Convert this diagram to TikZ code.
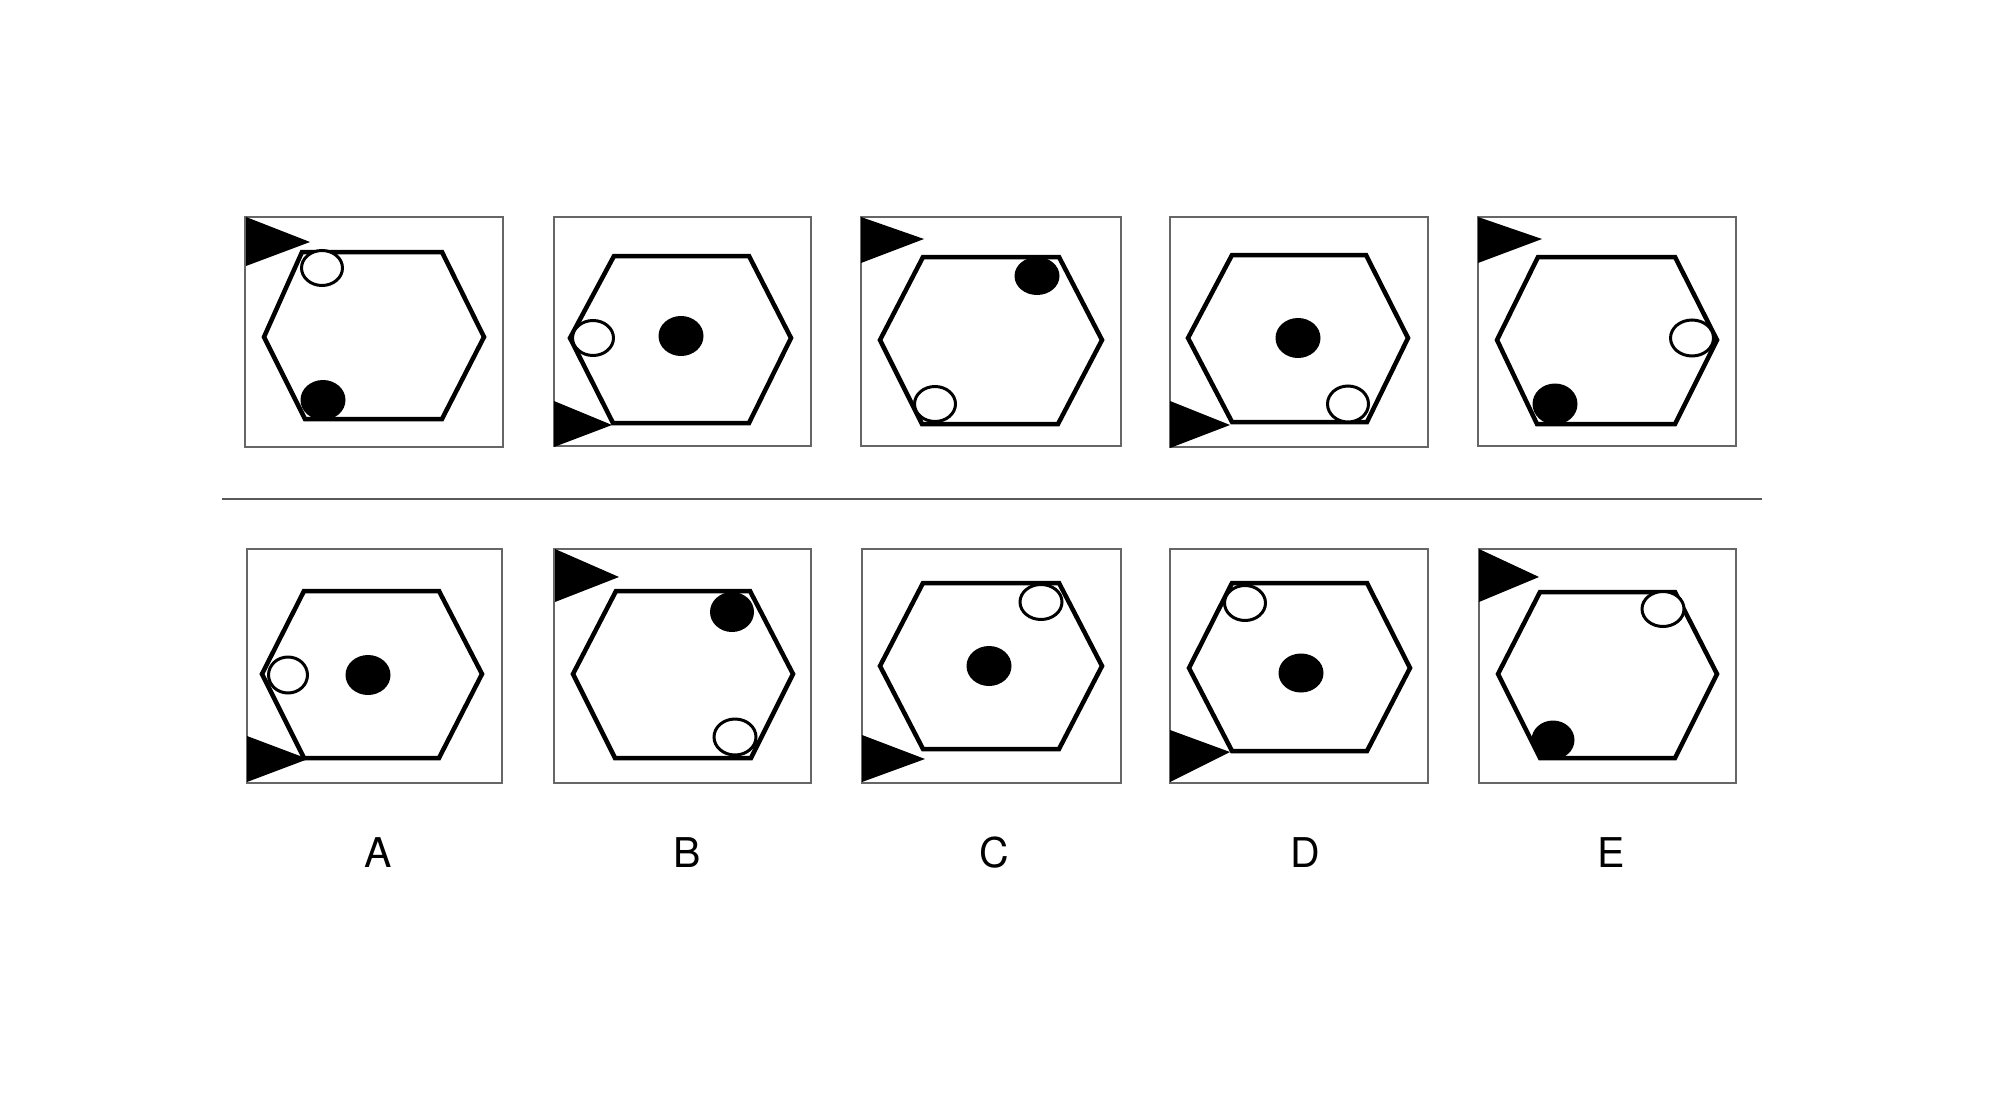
\documentclass[tikz,border=0pt]{standalone}
\usepackage{fontspec}
\setmainfont{TeX Gyre Heros}
\begin{document}
\begin{tikzpicture}[x=1pt, y=-1pt,
    panel/.style={draw=black!60, line width=2.4pt},
    hexline/.style={draw=black, line width=4.5pt, line join=miter},
    whitedot/.style={draw=black, fill=white, line width=3pt},
    blackdot/.style={fill=black},
    flag/.style={fill=black},
    optlabel/.style={inner sep=0pt, font=\fontsize{41}{50}\selectfont}]
    \fill[white] (0,0) rectangle (2015,1113);
    \useasboundingbox (0,0) rectangle (2015,1113);

    \draw[panel] (245,217) rectangle (503,447);
    \draw[hexline] (264,337) -- (302,252) -- (442,252) -- (484,337) -- (442,419) -- (305,419) -- cycle;
    \fill[flag] (246,217) -- (310,242) -- (246,266) -- cycle;
    \draw[whitedot] (322,268) ellipse[x radius=20.5, y radius=17.5];
    \fill[blackdot] (323,400) ellipse[x radius=22.5, y radius=20];

    \draw[panel] (554,217) rectangle (811,446);
    \draw[hexline] (570,338) -- (614,256) -- (749,256) -- (791,338) -- (749,423) -- (613,423) -- cycle;
    \fill[flag] (554,401) -- (612,425) -- (554,447) -- cycle;
    \draw[whitedot] (593,338) ellipse[x radius=20.5, y radius=17.5];
    \fill[blackdot] (681,336) ellipse[x radius=22.5, y radius=20];

    \draw[panel] (861,217) rectangle (1121,446);
    \draw[hexline] (880,340) -- (923,257) -- (1059,257) -- (1102,340) -- (1058,424) -- (922,424) -- cycle;
    \fill[flag] (861,217) -- (924,239) -- (861,263) -- cycle;
    \fill[blackdot] (1037,276) ellipse[x radius=22.5, y radius=19];
    \draw[whitedot] (935,404) ellipse[x radius=20.5, y radius=17.5];

    \draw[panel] (1170,217) rectangle (1428,447);
    \draw[hexline] (1188,338) -- (1232,255) -- (1366,255) -- (1408,338) -- (1367,422) -- (1232,422) -- cycle;
    \fill[flag] (1170,401) -- (1230,425) -- (1170,448) -- cycle;
    \fill[blackdot] (1298,338) ellipse[x radius=22.5, y radius=20];
    \draw[whitedot] (1348,404) ellipse[x radius=20.5, y radius=18];

    \draw[panel] (1478,217) rectangle (1736,446);
    \draw[hexline] (1497,340) -- (1538,257) -- (1675,257) -- (1717,340) -- (1675,424) -- (1537,424) -- cycle;
    \fill[flag] (1478,217) -- (1542,239) -- (1478,263) -- cycle;
    \draw[whitedot] (1692,338) ellipse[x radius=21.5, y radius=18];
    \fill[blackdot] (1555,404) ellipse[x radius=22.5, y radius=20.5];

    \draw[draw=black!65, line width=2.4pt] (222,499) -- (1762,499);

    \draw[panel] (247,549) rectangle (502,783);
    \draw[hexline] (262,674) -- (304,591) -- (439,591) -- (482,674) -- (439,758) -- (304,758) -- cycle;
    \fill[flag] (247,736) -- (308,759) -- (247,782) -- cycle;
    \draw[whitedot] (288,675) ellipse[x radius=19.5, y radius=18];
    \fill[blackdot] (368,675) ellipse[x radius=22.5, y radius=20];

    \draw[panel] (554,549) rectangle (811,783);
    \draw[hexline] (573,674) -- (616,591) -- (750,591) -- (793,674) -- (751,758) -- (615,758) -- cycle;
    \fill[flag] (555,549) -- (619,577) -- (555,602) -- cycle;
    \fill[blackdot] (732,612) ellipse[x radius=22, y radius=20];
    \draw[whitedot] (735,737) ellipse[x radius=21, y radius=18];

    \draw[panel] (862,549) rectangle (1121,783);
    \draw[hexline] (880,666) -- (923,583) -- (1059,583) -- (1102,666) -- (1059,749) -- (923,749) -- cycle;
    \fill[flag] (862,735) -- (925,759) -- (862,782) -- cycle;
    \draw[whitedot] (1041,602) ellipse[x radius=21, y radius=17.5];
    \fill[blackdot] (989,666) ellipse[x radius=22.5, y radius=20];

    \draw[panel] (1170,549) rectangle (1428,783);
    \draw[hexline] (1189,668) -- (1232,583) -- (1367,583) -- (1410,668) -- (1367,751) -- (1232,751) -- cycle;
    \fill[flag] (1170,730) -- (1230,752) -- (1170,782) -- cycle;
    \draw[whitedot] (1245,603) ellipse[x radius=20.5, y radius=17.5];
    \fill[blackdot] (1301,673) ellipse[x radius=22.5, y radius=19.5];

    \draw[panel] (1479,549) rectangle (1736,783);
    \draw[hexline] (1498,674) -- (1540,592) -- (1675,592) -- (1717,674) -- (1675,758) -- (1540,758) -- cycle;
    \fill[flag] (1479,549) -- (1539,577) -- (1479,602) -- cycle;
    \draw[whitedot] (1663,609) ellipse[x radius=21, y radius=17.5];
    \fill[blackdot] (1553,740) ellipse[x radius=21.5, y radius=19.5];

    \node[optlabel] (labA) at (378,853) {A};
    \node[optlabel] (labB) at (687,853) {B};
    \node[optlabel] (labC) at (994,853) {C};
    \node[optlabel] (labD) at (1305,853) {D};
    \node[optlabel] (labE) at (1611,853) {E};
\end{tikzpicture}
\end{document}
